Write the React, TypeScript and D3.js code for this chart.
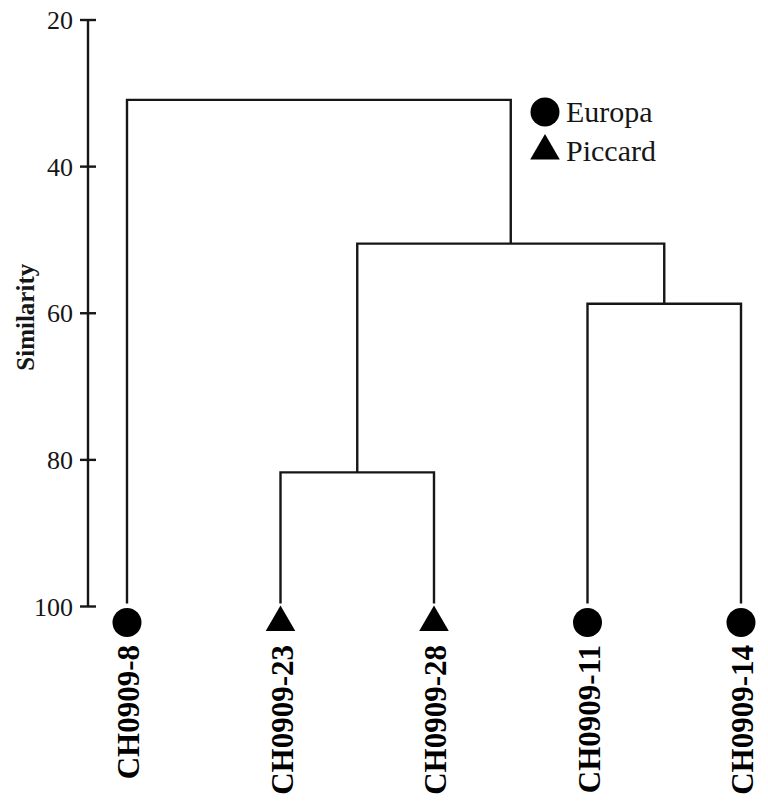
import * as d3 from "d3"

// leaves in dendrogram order
const leaves = ["CH0909-8", "CH0909-23", "CH0909-28", "CH0909-11", "CH0909-14"]
const leafGroups = ["Europa", "Piccard", "Piccard", "Europa", "Europa"]

// merges: [left, right, similarity] ; node ids "n0".."n3" refer to earlier merges
const mergeLeft = ["CH0909-23", "CH0909-11", "n0", "CH0909-8"]
const mergeRight = ["CH0909-28", "CH0909-14", "n1", "n2"]
const mergeSimilarity = [81.7, 58.7, 50.5, 30.9]

const yTicks = [20, 40, 60, 80, 100]
const legendGroups = ["Europa", "Piccard"]

const W = 768
const H = 804
const FONT = "'Liberation Serif', 'Times New Roman', serif"
const INK = "#161616"

export default function App() {
  const y = d3.scaleLinear().domain([20, 100]).range([20, 606.5])
  const x = d3.scalePoint<string>().domain(leaves).range([127, 741])

  const shape = d3
    .scaleOrdinal<string, d3.SymbolType>()
    .domain(legendGroups)
    .range([d3.symbolCircle, d3.symbolTriangle])
  const size = d3.scaleOrdinal<string, number>().domain(legendGroups).range([660, 380])

  // node positions: leaves at bottom, merges at their similarity
  const pos: Record<string, { x: number; y: number }> = {}
  leaves.forEach((l) => {
    pos[l] = { x: x(l) as number, y: y(100) - 3 }
  })
  const links: string[] = []
  mergeSimilarity.forEach((s, i) => {
    const a = pos[mergeLeft[i]]
    const b = pos[mergeRight[i]]
    const yy = y(s)
    pos["n" + i] = { x: (a.x + b.x) / 2, y: yy }
    links.push(`M${a.x},${a.y}V${yy}H${b.x}V${b.y}`)
  })

  const markerY = y(100) + 16

  return (
    <svg
      width={W}
      height={H}
      style={{ position: "absolute", left: 0, top: 0, background: "#fff" }}
      fontFamily={FONT}
    >
      {/* y axis */}
      <g stroke={INK} strokeWidth={2.4}>
        <line x1={88} x2={88} y1={y(20)} y2={y(100)} />
        {yTicks.map((t) => (
          <line key={t} x1={80} x2={96} y1={y(t)} y2={y(t)} />
        ))}
      </g>
      {yTicks.map((t) => (
        <text key={t} x={73} y={y(t) + 9} textAnchor="end" fontSize={26} fill={INK}>
          {t}
        </text>
      ))}
      <text
        transform={`translate(34,${y(60) + 4}) rotate(-90)`}
        textAnchor="middle"
        fontSize={25}
        fontWeight="bold"
        fill={INK}
      >
        Similarity
      </text>

      {/* dendrogram links */}
      <g fill="none" stroke={INK} strokeWidth={2.4}>
        {links.map((d, i) => (
          <path key={i} d={d} />
        ))}
      </g>

      {/* leaf markers + labels */}
      {leaves.map((l, i) => (
        <g key={l}>
          <path
            transform={`translate(${x(l)},${markerY})`}
            d={d3.symbol().type(shape(leafGroups[i])).size(size(leafGroups[i]))() as string}
            fill="#000"
          />
          <text
            transform={`translate(${(x(l) as number) + 12},645) rotate(-90)`}
            textAnchor="end"
            fontSize={31}
            fontWeight="bold"
            fill="#000"
          >
            {l}
          </text>
        </g>
      ))}

      {/* legend */}
      {legendGroups.map((g, i) => (
        <g key={g} transform={`translate(545,${112 + i * 39})`}>
          <path d={d3.symbol().type(shape(g)).size(size(g))() as string} fill="#000" />
          <text x={21} y={10} fontSize={30} fill={INK}>
            {g}
          </text>
        </g>
      ))}
    </svg>
  )
}
